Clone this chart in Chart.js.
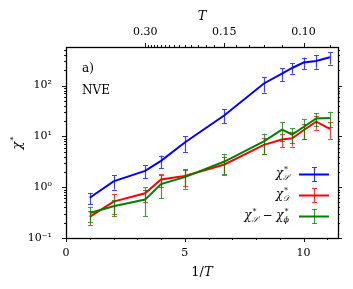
<!DOCTYPE html>
<html>
<head>
<meta charset="utf-8">
<script src="https://cdn.jsdelivr.net/npm/chart.js@4/dist/chart.umd.min.js"></script>
<style>
  body { margin: 0; background: #fff; }
  canvas { display: block; }
</style>
</head>
<body>
<canvas id="c" width="353" height="289"></canvas>
<script>
// 1/T values of the simulated temperatures
const invT = [1, 2, 3.33, 4, 5, 6.67, 8.33, 9.09, 9.52, 10, 10.53, 11.11];

const chiS    = [0.62, 1.3, 2.1, 3.3, 7.6, 26, 110, 172, 222, 284, 305, 360];
const chiSErr = [0.16, 0.4, 0.6, 0.9, 2.6, 8, 37, 50, 51, 73, 90, 100];

const chiD    = [0.26, 0.52, 0.76, 1.42, 1.66, 2.8, 6.8, 8.7, 9.2, 13.2, 19.5, 14];
const chiDErr = [0.08, 0.22, 0.25, 0.4, 0.6, 1.1, 2.3, 2.5, 2.9, 4.5, 6, 5];

const chiSPhi    = [0.31, 0.42, 0.57, 1.15, 1.58, 3.2, 8.0, 13.6, 10.9, 15.3, 22.5, 23];
const chiSPhiErr = [0.1, 0.15, 0.3, 0.55, 0.65, 1.35, 3.4, 5.4, 3.6, 6.5, 6.2, 7.5];

// axis ticks
const xTicks = [0, 5, 10];
const yTicks = [0.1, 1, 10, 100];
const yTickLabels = ['10⁻¹', '10⁰', '10¹', '10²'];
const topMajorT = [0.30, 0.15, 0.10];
const topMinorT = [0.29, 0.28, 0.27, 0.26, 0.25, 0.24, 0.23, 0.22, 0.21, 0.20, 0.19, 0.18, 0.17, 0.16,
                   0.14, 0.13, 0.12, 0.11, 0.09];

const SERIF = '"DejaVu Serif", serif';
const BIG = 'italic 12px ' + SERIF;
const SMALL = 'italic 8px ' + SERIF;
const UP = '12px ' + SERIF;

function pts(ys) {
  return ys.map((v, i) => ({ x: invT[i], y: v }));
}

const series = [
  { color: '#0000ff', vals: chiS, errs: chiSErr },
  { color: '#ff0000', vals: chiD, errs: chiDErr },
  { color: '#008000', vals: chiSPhi, errs: chiSPhiErr }
];

// small math text: {t, font, dy} or {sup, sub} stacked
function mathWidth(ctx, toks) {
  let w = 0;
  for (const t of toks) {
    if (t.sup !== undefined) {
      ctx.font = SMALL;
      w += Math.max(ctx.measureText(t.sup).width, ctx.measureText(t.sub || '').width) + 1;
    } else {
      ctx.font = t.font;
      w += ctx.measureText(t.t).width;
    }
  }
  return w;
}

function drawMath(ctx, toks, x, y, align) {
  const total = mathWidth(ctx, toks);
  let cx = align === 'right' ? x - total : align === 'center' ? x - total / 2 : x;
  ctx.textAlign = 'left';
  ctx.textBaseline = 'alphabetic';
  for (const t of toks) {
    if (t.sup !== undefined) {
      ctx.font = SMALL;
      ctx.fillText(t.sup, cx + 1, y - 5);
      if (t.sub) ctx.fillText(t.sub, cx, y + 3);
      cx += Math.max(ctx.measureText(t.sup).width, ctx.measureText(t.sub || '').width) + 1;
    } else {
      ctx.font = t.font;
      ctx.fillText(t.t, cx, y + (t.dy || 0));
      cx += ctx.measureText(t.t).width;
    }
  }
}

const legendItems = [
  [{ t: 'χ', font: BIG }, { sup: '*', sub: '𝒮' }],
  [{ t: 'χ', font: BIG }, { sup: '*', sub: '𝒟' }],
  [{ t: 'χ', font: BIG }, { sup: '*', sub: '𝒮' }, { t: ' − ', font: UP }, { t: 'χ', font: BIG }, { sup: '*', sub: 'ϕ' }]
];

function errBar(ctx, x, y1, y2, cap) {
  const px = Math.round(x) + 0.5;
  ctx.beginPath();
  ctx.moveTo(px, y1);
  ctx.lineTo(px, y2);
  ctx.moveTo(px - cap, Math.round(y1) + 0.5);
  ctx.lineTo(px + cap, Math.round(y1) + 0.5);
  ctx.moveTo(px - cap, Math.round(y2) + 0.5);
  ctx.lineTo(px + cap, Math.round(y2) + 0.5);
  ctx.stroke();
}

const overlay = {
  id: 'overlay',
  afterDatasetDraw(chart, args) {
    const s = series[args.index];
    const ctx = chart.ctx;
    const xs = chart.scales.x, ys = chart.scales.y;
    ctx.save();
    ctx.strokeStyle = s.color;
    ctx.globalAlpha = 0.75;
    ctx.lineWidth = 1.2;
    s.vals.forEach((v, i) => {
      const lo = Math.max(v - s.errs[i], 0.1);
      errBar(ctx, xs.getPixelForValue(invT[i]), ys.getPixelForValue(v + s.errs[i]), ys.getPixelForValue(lo), 2.5);
    });
    ctx.restore();
  },
  afterDraw(chart) {
    const ctx = chart.ctx;
    const ca = chart.chartArea;
    const xs = chart.scales.x, ys = chart.scales.y;
    ctx.save();
    ctx.strokeStyle = '#000';
    ctx.fillStyle = '#000';

    // frame
    ctx.lineWidth = 1.3;
    ctx.strokeRect(Math.round(ca.left) + 0.5, Math.round(ca.top) + 0.5,
      Math.round(ca.right - ca.left), Math.round(ca.bottom - ca.top));
    ctx.lineWidth = 0.9;

    // bottom ticks
    ctx.beginPath();
    for (let v = 0; v <= 11; v++) {
      const px = Math.round(xs.getPixelForValue(v)) + 0.5;
      const len = v % 5 === 0 ? 4 : 2;
      ctx.moveTo(px, ca.bottom);
      ctx.lineTo(px, ca.bottom + len);
    }
    // top ticks (T axis)
    topMajorT.concat(topMinorT).forEach((T, i) => {
      const px = Math.round(xs.getPixelForValue(1 / T)) + 0.5;
      const len = i < topMajorT.length ? 4 : 2;
      ctx.moveTo(px, ca.top);
      ctx.lineTo(px, ca.top - len);
    });
    // left and right ticks (log)
    for (let k = -1; k <= 2; k++) {
      for (let m = 1; m <= 9; m++) {
        const v = m * Math.pow(10, k);
        if (v > ys.max) continue;
        const py = Math.round(ys.getPixelForValue(v)) + 0.5;
        const len = m === 1 ? 4 : 2;
        ctx.moveTo(ca.left - len, py);
        ctx.lineTo(ca.left, py);
        ctx.moveTo(ca.right, py);
        ctx.lineTo(ca.right + len, py);
      }
    }
    ctx.stroke();

    // axis titles
    drawMath(ctx, [{ t: '1/', font: '13px ' + SERIF }, { t: 'T', font: 'italic 13px ' + SERIF }], (ca.left + ca.right) / 2, 276, 'center');
    drawMath(ctx, [{ t: 'T', font: 'italic 13px ' + SERIF }], (ca.left + ca.right) / 2, 20, 'center');
    ctx.save();
    ctx.translate(21, 143);
    ctx.rotate(-Math.PI / 2);
    drawMath(ctx, [{ t: 'χ', font: 'italic 13px ' + SERIF }, { sup: '*' }], 0, 0, 'center');
    ctx.restore();

    // panel annotations
    ctx.font = UP;
    ctx.textAlign = 'left';
    ctx.fillText('a)', 82, 72);
    ctx.fillText('NVE', 82, 94);

    // legend
    const rows = [174, 195, 216];
    legendItems.forEach((toks, i) => {
      const y = rows[i];
      ctx.fillStyle = '#000';
      drawMath(ctx, toks, 290, y + 3, 'right');
      ctx.strokeStyle = series[i].color;
      ctx.lineWidth = 2;
      ctx.beginPath();
      ctx.moveTo(299, y + 0.5);
      ctx.lineTo(329, y + 0.5);
      ctx.stroke();
      ctx.lineWidth = 1.2;
      ctx.globalAlpha = 0.8;
      errBar(ctx, 314, y - 7, y + 7, 2.5);
      ctx.globalAlpha = 1;
    });
    ctx.restore();
  }
};

const tickFont = { family: SERIF, size: 11 };

new Chart(document.getElementById('c'), {
  type: 'line',
  data: {
    datasets: series.map((s, i) => ({
      data: pts(s.vals),
      borderColor: s.color,
      borderWidth: 2,
      pointRadius: 0,
      fill: false,
      tension: 0,
      order: 2 - i
    }))
  },
  options: {
    responsive: false,
    animation: false,
    devicePixelRatio: 1,
    layout: { padding: { right: 15 } },
    plugins: { legend: { display: false }, tooltip: { enabled: false } },
    scales: {
      x: {
        type: 'linear', position: 'bottom', min: 0, max: 11.45,
        afterBuildTicks: s => { s.ticks = xTicks.map(v => ({ value: v })); },
        afterFit: s => { s.height = 51; },
        grid: { display: false },
        border: { display: false },
        ticks: { font: tickFont, color: '#000', padding: 1, maxRotation: 0, autoSkip: false }
      },
      x2: {
        type: 'linear', position: 'top', min: 0, max: 11.45,
        afterBuildTicks: s => { s.ticks = topMajorT.map(T => ({ value: 1 / T })); },
        afterFit: s => { s.height = 47; },
        grid: { display: false },
        border: { display: false },
        ticks: {
          font: tickFont, color: '#000', padding: 0, maxRotation: 0, autoSkip: false,
          callback: v => (1 / v).toFixed(2)
        }
      },
      y: {
        type: 'logarithmic', position: 'left', min: 0.1, max: 575,
        afterBuildTicks: s => { s.ticks = yTicks.map(v => ({ value: v })); },
        afterFit: s => { s.width = 66; },
        grid: { display: false },
        border: { display: false },
        ticks: {
          font: tickFont, color: '#000', padding: 6, autoSkip: false,
          callback: (v, i) => yTickLabels[i]
        }
      }
    }
  },
  plugins: [overlay]
});
</script>
</body>
</html>
